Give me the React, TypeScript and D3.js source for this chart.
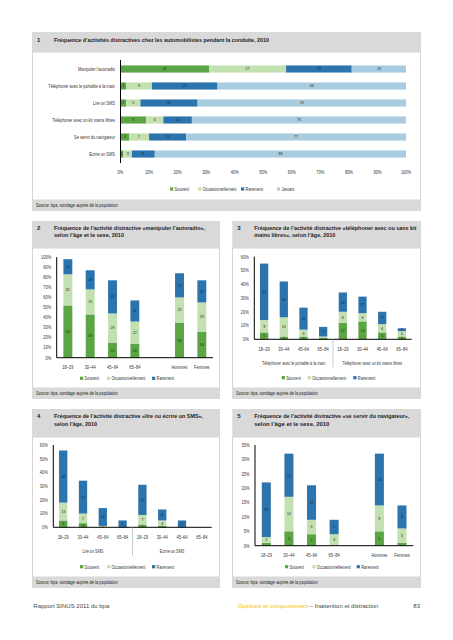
import React from "react";
import * as d3 from "d3";

const FONT = "'Liberation Sans',Arial,sans-serif";
const FONT_REG = "'Liberation Sans','DejaVu Sans',Arial,sans-serif";
const SX = 0.8; // horizontal condensing of the small sans texts

const COLORS: Record<string, string> = {
  souvent: "#5ca545",
  occas: "#c3e0b0",
  rare: "#2c74ad",
  jamais: "#a9cbe0",
};
const HEADER = "#d9d9d9";
const LEGEND_LABELS: Record<string, string> = {
  souvent: "Souvent",
  occas: "Occasionnellement",
  rare: "Rarement",
  jamais: "Jamais",
};
const SOURCE = "Source: bpa, sondage auprès de la population";

// ---------- Panel 1 ----------
const p1Categories = [
  "Manipuler l’autoradio",
  "Téléphoner avec le portable à la main",
  "Lire un SMS",
  "Téléphoner avec un kit mains libres",
  "Se servir du navigateur",
  "Ecrire un SMS",
];
const p1Souvent = [31, 2, 2, 9, 3, 1];
const p1Occas = [27, 9, 5, 6, 7, 3];
const p1Rare = [23, 23, 20, 10, 13, 8];
const p1Jamais = [19, 66, 73, 75, 77, 88];
const p1Ticks = [0, 10, 20, 30, 40, 50, 60, 70, 80, 90, 100];

// ---------- Panel 2 ----------
const p2Categories = ["18–29", "30–44", "45–64", "65–84", "Hommes", "Femmes"];
const p2Souvent = [52, 43, 15, 14, 35, 26];
const p2Occas = [31, 25, 29, 22, 25, 29];
const p2Rare = [15, 19, 33, 21, 24, 22];

// ---------- Panel 3 ----------
const ages = ["18–29", "30–44", "45–64", "65–84"];
const p3Groups = ["Téléphoner avec le portable à la main", "Téléphoner avec un kit mains libres"];
const p3PortSouvent = [5, 2, 2, 1];
const p3PortOccas = [9, 14, 5, 1];
const p3PortRare = [41, 26, 16, 7];
const p3KitSouvent = [12, 13, 5, 2];
const p3KitOccas = [8, 6, 6, 4];
const p3KitRare = [14, 12, 9, 2];

// ---------- Panel 4 ----------
const p4Groups = ["Lire un SMS", "Ecrire un SMS"];
const p4LireSouvent = [5, 3, 0, 0];
const p4LireOccas = [13, 7, 1, 0];
const p4LireRare = [38, 24, 13, 5];
const p4EcrireSouvent = [2, 1, 0, 0];
const p4EcrireOccas = [7, 4, 0, 0];
const p4EcrireRare = [22, 8, 5, 0];

// ---------- Panel 5 ----------
const p5Categories = ["18–29", "30–44", "45–64", "65–84", "Hommes", "Femmes"];
const p5Souvent = [1, 5, 4, 0, 5, 1];
const p5Occas = [2, 12, 5, 4, 9, 5];
const p5Rare = [19, 15, 12, 5, 18, 8];

type Row = { slot: string; label: string; souvent: number; occas: number; rare: number };

function rows(prefix: string, cats: string[], s: number[], o: number[], r: number[]): Row[] {
  return cats.map((c, i) => ({ slot: prefix + c, label: c, souvent: s[i], occas: o[i], rare: r[i] }));
}

function T(props: {
  x: number;
  y: number;
  anchor?: "start" | "middle" | "end";
  size?: number;
  fill?: string;
  weight?: string;
  sx?: number;
  children: React.ReactNode;
}) {
  const { x, y, anchor = "start", size = 5, fill = "#333", weight = "normal", sx = SX, children } = props;
  return (
    <text
      transform={`translate(${x},${y}) scale(${sx},1)`}
      textAnchor={anchor}
      fontFamily={FONT}
      fontSize={size}
      fontWeight={weight}
      fill={fill}
    >
      {children}
    </text>
  );
}

function Header(props: { x: number; y: number; w: number; h: number; num: string; lines: { t: string; len: number }[]; lineY: number[] }) {
  const { x, y, w, h, num, lines, lineY } = props;
  return (
    <g>
      <rect x={x} y={y} width={w} height={h} fill={HEADER} />
      <text x={x + 5} y={lineY[0]} fontFamily={FONT} fontWeight="bold" fontSize={6} fill="#222">
        {num}
      </text>
      {lines.map((l, i) => (
        <text
          key={i}
          x={x + 22}
          y={lineY[i]}
          fontFamily={FONT}
          fontWeight="bold"
          fontSize={6}
          fill="#222"
          textLength={l.len}
          lengthAdjust="spacingAndGlyphs"
        >
          {l.t}
        </text>
      ))}
    </g>
  );
}

function Frame(props: { x: number; w: number; bodyTop: number; srcTop: number; srcH: number }) {
  const { x, w, bodyTop, srcTop, srcH } = props;
  return (
    <g>
      <rect x={x + 0.5} y={bodyTop} width={w - 1} height={srcTop - bodyTop} fill="#fff" stroke="#d6d6d6" strokeWidth={1} />
      <rect x={x} y={srcTop} width={w} height={srcH} fill={HEADER} />
      <T x={x + 4} y={srcTop + srcH / 2 + 1.8} fill="#222">
        {SOURCE}
      </T>
    </g>
  );
}

function Legend(props: { x: number; y: number; keys: string[]; offsets: number[] }) {
  const { x, y, keys, offsets } = props;
  return (
    <g>
      {keys.map((k, i) => (
        <g key={k} transform={`translate(${x + offsets[i]},${y})`}>
          <rect x={0} y={-1.6} width={3.2} height={3.2} fill={COLORS[k]} />
          <T x={4.5} y={1.8}>
            {LEGEND_LABELS[k]}
          </T>
        </g>
      ))}
    </g>
  );
}

function VPanel(props: {
  slots: string[];
  data: Row[];
  groups?: { label: string; slots: string[] }[];
  x0: number;
  x1: number;
  yBase: number;
  yTop: number;
  yMax: number;
  step: number;
  barFrac: number;
  minLabel: number;
}) {
  const { slots, data, groups, x0, x1, yBase, yTop, yMax, step, barFrac, minLabel } = props;
  const x = d3.scaleBand<string>().domain(slots).range([x0, x1]).padding(0);
  const y = d3.scaleLinear().domain([0, yMax]).range([yBase, yTop]);
  const keys = ["souvent", "occas", "rare"];
  const stacked = d3.stack<Row>().keys(keys)(data);
  const bw = x.bandwidth() * barFrac;
  const off = (x.bandwidth() - bw) / 2;
  const ticks = d3.range(0, yMax + 0.001, step);
  return (
    <g>
      {ticks.map((t) => (
        <T key={t} x={x0 - 5.5} y={y(t) + 1.8} anchor="end">
          {t}%
        </T>
      ))}
      {stacked.map((s) => (
        <g key={s.key}>
          {s.map((d, i) => {
            const v = d[1] - d[0];
            if (v <= 0) return null;
            const bx = (x(d.data.slot) as number) + off;
            const top = y(d[1]);
            const h = y(d[0]) - y(d[1]);
            return (
              <g key={i}>
                <rect x={bx} y={top} width={bw} height={h} fill={COLORS[s.key]} />
                {v >= minLabel && (
                  <T x={bx + bw / 2} y={top + h / 2 + 1.4} anchor="middle" size={4} fill="#1d2a1d" sx={0.9}>
                    {v}
                  </T>
                )}
              </g>
            );
          })}
        </g>
      ))}
      <line x1={x0} x2={x0} y1={yTop} y2={yBase} stroke="#000" strokeWidth={1} />
      <line x1={x0} x2={x1} y1={yBase} y2={yBase} stroke="#000" strokeWidth={1} />
      {data.map((d) => (
        <T key={d.slot} x={(x(d.slot) as number) + x.bandwidth() / 2} y={yBase + 11.5} anchor="middle">
          {d.label}
        </T>
      ))}
      {groups &&
        groups.map((g, gi) => {
          const first = x(g.slots[0]) as number;
          const last = (x(g.slots[g.slots.length - 1]) as number) + x.bandwidth();
          return (
            <g key={g.label}>
              <T x={(first + last) / 2} y={yBase + 26} anchor="middle" sx={0.76}>
                {g.label}
              </T>
              {gi > 0 && <line x1={first} x2={first} y1={yBase} y2={yBase + 28} stroke="#bbb" strokeWidth={0.8} />}
            </g>
          );
        })}
    </g>
  );
}

function Panel1() {
  const x = d3.scaleLinear().domain([0, 100]).range([120.5, 406]);
  const y = d3.scaleBand<string>().domain(p1Categories).range([60.5, 162.5]).paddingInner(0.58).paddingOuter(0.29);
  const data = p1Categories.map((c, i) => ({
    cat: c,
    souvent: p1Souvent[i],
    occas: p1Occas[i],
    rare: p1Rare[i],
    jamais: p1Jamais[i],
  }));
  const keys = ["souvent", "occas", "rare", "jamais"];
  const stacked = d3.stack<any>().keys(keys)(data);
  return (
    <g>
      {p1Categories.map((c) => (
        <T key={c} x={115} y={(y(c) as number) + y.bandwidth() / 2 + 1.8} anchor="end">
          {c}
        </T>
      ))}
      {stacked.map((s) => (
        <g key={s.key}>
          {s.map((d, i) => {
            const v = d[1] - d[0];
            const bx = x(d[0]);
            const w = x(d[1]) - x(d[0]);
            const by = y(d.data.cat) as number;
            return (
              <g key={i}>
                <rect x={bx} y={by} width={w} height={y.bandwidth()} fill={COLORS[s.key]} />
                <T x={bx + w / 2} y={by + y.bandwidth() / 2 + 1.4} anchor="middle" size={4} fill="#1d2a1d" sx={0.9}>
                  {v}
                </T>
              </g>
            );
          })}
        </g>
      ))}
      <line x1={120.5} x2={120.5} y1={60} y2={163} stroke="#000" strokeWidth={1} />
      {p1Ticks.map((t) => (
        <T key={t} x={x(t)} y={174} anchor="middle">
          {t}%
        </T>
      ))}
    </g>
  );
}

export default function App() {
  const p2Rows = rows("", p2Categories, p2Souvent, p2Occas, p2Rare);
  const p2Slots = ["18–29", "30–44", "45–64", "65–84", "gap", "Hommes", "Femmes"];

  const p3Rows = [
    ...rows("p", ages, p3PortSouvent, p3PortOccas, p3PortRare),
    ...rows("k", ages, p3KitSouvent, p3KitOccas, p3KitRare),
  ];
  const p3Slots = p3Rows.map((r) => r.slot);
  const p3G = [
    { label: p3Groups[0], slots: ages.map((a) => "p" + a) },
    { label: p3Groups[1], slots: ages.map((a) => "k" + a) },
  ];

  const p4Rows = [
    ...rows("l", ages, p4LireSouvent, p4LireOccas, p4LireRare),
    ...rows("e", ages, p4EcrireSouvent, p4EcrireOccas, p4EcrireRare),
  ];
  const p4Slots = p4Rows.map((r) => r.slot);
  const p4G = [
    { label: p4Groups[0], slots: ages.map((a) => "l" + a) },
    { label: p4Groups[1], slots: ages.map((a) => "e" + a) },
  ];

  const p5Rows = rows("", p5Categories, p5Souvent, p5Occas, p5Rare);
  const p5Slots = ["18–29", "30–44", "45–64", "65–84", "gap", "Hommes", "Femmes"];

  return (
    <svg width={453} height={640} style={{ position: "absolute", left: 0, top: 0, background: "#fff" }}>
      <rect x={0} y={0} width={453} height={640} fill="#fff" />

      {/* Panel 1 */}
      <Frame x={32} w={389} bodyTop={52} srcTop={200} srcH={11} />
      <Header
        x={32}
        y={32}
        w={389}
        h={20}
        num="1"
        lines={[{ t: "Fréquence d’activités distractives chez les automobilistes pendant la conduite, 2010", len: 215 }]}
        lineY={[41.5]}
      />
      <Panel1 />
      <Legend x={170} y={189} keys={["souvent", "occas", "rare", "jamais"]} offsets={[0, 28, 71, 107]} />

      {/* Panel 2 */}
      <Frame x={32} w={188} bodyTop={248} srcTop={388} srcH={11} />
      <Header
        x={32}
        y={221}
        w={188}
        h={27}
        num="2"
        lines={[
          { t: "Fréquence de l’activité distractive «manipuler l’autoradio»,", len: 151 },
          { t: "selon l’âge et le sexe, 2010", len: 70 },
        ]}
        lineY={[230, 237.3]}
      />
      <VPanel slots={p2Slots} data={p2Rows} x0={56.7} x1={213} yBase={357.7} yTop={257.2} yMax={100} step={10} barFrac={0.4} minLabel={2} />
      <Legend x={80} y={378.3} keys={["souvent", "occas", "rare"]} offsets={[0, 27, 72]} />

      {/* Panel 3 */}
      <Frame x={232} w={189} bodyTop={248} srcTop={388} srcH={11} />
      <Header
        x={232.3}
        y={221}
        w={188.7}
        h={27}
        num="3"
        lines={[
          { t: "Fréquence de l’activité distractive «téléphoner avec ou sans kit", len: 162 },
          { t: "mains libres», selon l’âge, 2010", len: 81 },
        ]}
        lineY={[230, 237.3]}
      />
      <VPanel slots={p3Slots} data={p3Rows} groups={p3G} x0={254.3} x1={411.7} yBase={339.3} yTop={256.7} yMax={60} step={10} barFrac={0.42} minLabel={2} />
      <Legend x={281.7} y={377.7} keys={["souvent", "occas", "rare"]} offsets={[0, 26, 71.6]} />

      {/* Panel 4 */}
      <Frame x={32} w={188} bodyTop={437} srcTop={577} srcH={11} />
      <Header
        x={32}
        y={409}
        w={188}
        h={28}
        num="4"
        lines={[
          { t: "Fréquence de l’activité distractive «lire ou écrire un SMS»,", len: 149 },
          { t: "selon l’âge, 2010", len: 43 },
        ]}
        lineY={[418, 425.6]}
      />
      <VPanel slots={p4Slots} data={p4Rows} groups={p4G} x0={53.3} x1={211.7} yBase={527.3} yTop={445} yMax={60} step={10} barFrac={0.42} minLabel={1} />
      <Legend x={80} y={566.7} keys={["souvent", "occas", "rare"]} offsets={[0, 27, 72]} />

      {/* Panel 5 */}
      <Frame x={232} w={189} bodyTop={437} srcTop={577} srcH={11} />
      <Header
        x={232.3}
        y={409}
        w={188.7}
        h={28}
        num="5"
        lines={[
          { t: "Fréquence de l’activité distractive «se servir du navigateur»,", len: 155 },
          { t: "selon l’âge et le sexe, 2010", len: 75 },
        ]}
        lineY={[418, 425.6]}
      />
      <VPanel slots={p5Slots} data={p5Rows} x0={255} x1={413.3} yBase={545.7} yTop={445} yMax={35} step={5} barFrac={0.4} minLabel={2} />
      <Legend x={285} y={566.7} keys={["souvent", "occas", "rare"]} offsets={[0, 27.3, 71.7]} />

      {/* Footer */}
      <text x={33.3} y={608} fontFamily={FONT_REG} fontSize={6} fill="#444">
        Rapport SINUS 2011 du bpa
      </text>
      <text x={237.7} y={608} fontFamily={FONT_REG} fontSize={6} fill="#444">
        <tspan fill="#f2c200">Opinions et comportement</tspan>
        <tspan> – Inattention et distraction</tspan>
      </text>
      <text x={420} y={608} textAnchor="end" fontFamily={FONT_REG} fontSize={6} fill="#444">
        83
      </text>
    </svg>
  );
}
